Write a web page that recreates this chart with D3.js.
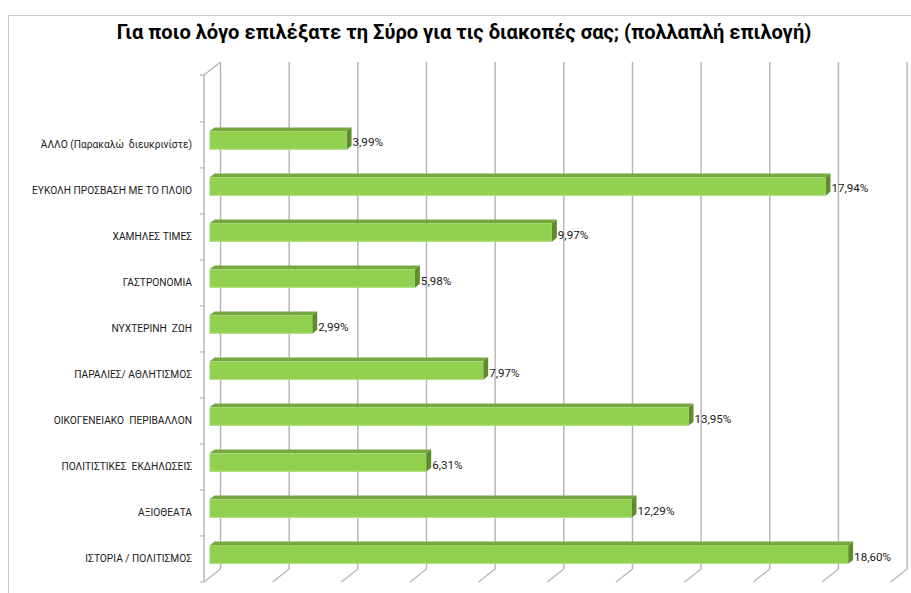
<!DOCTYPE html>
<html>
<head>
<meta charset="utf-8">
<script src="https://cdn.jsdelivr.net/npm/d3@7"></script>
<style>
  html, body { margin: 0; padding: 0; background: #fff; }
  svg { display: block; }
</style>
</head>
<body>
<svg id="chart" width="911" height="593"></svg>
<script>
// Reasons for choosing Syros (multiple choice), percentages
const categories = [
  "ΆΛΛΟ (Παρακαλώ  διευκρινίστε)",
  "ΕΥΚΟΛΗ ΠΡΟΣΒΑΣΗ ΜΕ ΤΟ ΠΛΟΙΟ",
  "ΧΑΜΗΛΕΣ ΤΙΜΕΣ",
  "ΓΑΣΤΡΟΝΟΜΙΑ",
  "ΝΥΧΤΕΡΙΝΗ  ΖΩΗ",
  "ΠΑΡΑΛΙΕΣ/ ΑΘΛΗΤΙΣΜΟΣ",
  "ΟΙΚΟΓΕΝΕΙΑΚΟ  ΠΕΡΙΒΑΛΛΟΝ",
  "ΠΟΛΙΤΙΣΤΙΚΕΣ  ΕΚΔΗΛΩΣΕΙΣ",
  "ΑΞΙΟΘΕΑΤΑ",
  "ΙΣΤΟΡΙΑ / ΠΟΛΙΤΙΣΜΟΣ"
];
const values = [3.99, 17.94, 9.97, 5.98, 2.99, 7.97, 13.95, 6.31, 12.29, 18.60];
const gridTicks = [0, 2, 4, 6, 8, 10, 12, 14, 16, 18, 20];
const title = "Για ποιο λόγο επιλέξατε τη Σύρο για τις διακοπές σας; (πολλαπλή επιλογή)";

const svg = d3.select("#chart");
const FONT = "Roboto, 'Open Sans', sans-serif";

// frame
svg.append("rect")
  .attr("x", 8.5).attr("y", 15.5).attr("width", 920).attr("height", 600)
  .attr("fill", "#fff").attr("stroke", "#c8c8c8").attr("stroke-width", 1);

// 3D geometry: front plane and depth vector towards the back wall
const depth = { dx: 16.5, dy: -13 };
const frontLeft = 204, frontTop = 75, frontBottom = 582;

// value scale on the front plane
const x = d3.scaleLinear().domain([0, 20]).range([frontLeft, frontLeft + 686.6]);
// category bands on the front plane (an empty slot remains above the first band)
const y = d3.scaleBand().domain(categories).range([frontTop + 46.9, frontBottom]).paddingInner(0).paddingOuter(0);

const P = (px, py, f) => [px + depth.dx * f, py + depth.dy * f];

const gridColor = "#b4b4b4";

// back wall gridlines and floor lines
const grid = svg.append("g");
gridTicks.forEach(t => {
  const xb = x(t) + depth.dx;
  grid.append("line")
    .attr("x1", xb).attr("x2", xb)
    .attr("y1", frontTop + depth.dy).attr("y2", frontBottom + depth.dy)
    .attr("stroke", gridColor).attr("stroke-width", 1.4);
  grid.append("line")
    .attr("x1", x(t)).attr("y1", frontBottom)
    .attr("x2", xb).attr("y2", frontBottom + depth.dy)
    .attr("stroke", gridColor).attr("stroke-width", 1.2);
});
// left wall top edge
grid.append("line")
  .attr("x1", frontLeft).attr("y1", frontTop)
  .attr("x2", frontLeft + depth.dx).attr("y2", frontTop + depth.dy)
  .attr("stroke", gridColor).attr("stroke-width", 1.2);

// category axis on the front-left edge
const axis = svg.append("g");
axis.append("line")
  .attr("x1", frontLeft).attr("x2", frontLeft)
  .attr("y1", frontTop).attr("y2", frontBottom)
  .attr("stroke", gridColor).attr("stroke-width", 1.4);
const tickYs = [frontTop].concat(categories.map(c => y(c)), [frontBottom]);
tickYs.forEach(ty => {
  axis.append("line")
    .attr("x1", frontLeft - 4).attr("x2", frontLeft)
    .attr("y1", ty).attr("y2", ty)
    .attr("stroke", gridColor).attr("stroke-width", 1.2);
});

// category labels
const catLabels = axis.selectAll("text.cat").data(categories).enter().append("text")
  .attr("class", "cat")
  .attr("x", 192)
  .attr("y", d => y(d) + y.bandwidth() / 2)
  .attr("text-anchor", "end")
  .attr("dominant-baseline", "central")
  .attr("font-family", FONT)
  .attr("font-size", 10)
  .attr("fill", "#1a1a1a")
  .style("white-space", "pre")
  .text(d => d);

// bars (front face, top face, end face)
const barFront = 0.34, barBack = 0.64, barH = 18.4;
const bars = svg.append("g");
categories.forEach((c, i) => {
  const v = values[i];
  const cy = y(c) + y.bandwidth() / 2;
  const [x0, yc] = P(x(0), cy, barFront);
  const [x1] = P(x(v), cy, barFront);
  const top = yc - barH / 2, bot = yc + barH / 2;
  const ddx = depth.dx * (barBack - barFront), ddy = depth.dy * (barBack - barFront);
  const g = bars.append("g");
  g.append("polygon")
    .attr("points", [[x0, top], [x1, top], [x1 + ddx, top + ddy], [x0 + ddx, top + ddy]].map(p => p.join(",")).join(" "))
    .attr("fill", "#77a83f");
  g.append("polygon")
    .attr("points", [[x1, top], [x1 + ddx, top + ddy], [x1 + ddx, bot + ddy], [x1, bot]].map(p => p.join(",")).join(" "))
    .attr("fill", "#5e8c2c");
  g.append("rect")
    .attr("x", x0).attr("y", top).attr("width", x1 - x0).attr("height", barH)
    .attr("fill", "#92d050");
  g.append("line")
    .attr("x1", x0).attr("x2", x1).attr("y1", bot - 0.5).attr("y2", bot - 0.5)
    .attr("stroke", "#b2e07f").attr("stroke-width", 1);
  g.append("text")
    .attr("class", "val")
    .attr("x", x1 + ddx + 1)
    .attr("y", yc + 2)
    .attr("dominant-baseline", "central")
    .attr("font-family", FONT)
    .attr("font-size", 10)
    .attr("fill", "#1a1a1a")
    .text(d3.format(".2f")(v).replace(".", ",") + "%");
});

// title
const titleText = svg.append("text")
  .attr("x", 464).attr("y", 32)
  .attr("text-anchor", "middle")
  .attr("dominant-baseline", "central")
  .attr("font-family", FONT)
  .attr("font-weight", "bold")
  .attr("font-size", 17)
  .attr("fill", "#000")
  .text(title);

// size the type to the layout widths
function fit(sel, target) {
  const w = sel.node().getComputedTextLength();
  const fs = parseFloat(sel.attr("font-size"));
  return fs * target / w;
}
titleText.attr("font-size", fit(titleText, 695));
const refCat = catLabels.filter((d, i) => i === 1);
catLabels.attr("font-size", fit(refCat, 160));
const vals = svg.selectAll("text.val");
const lastVal = vals.filter((d, i, n) => i === n.length - 1);
vals.attr("font-size", fit(lastVal, 37));
</script>
</body>
</html>
